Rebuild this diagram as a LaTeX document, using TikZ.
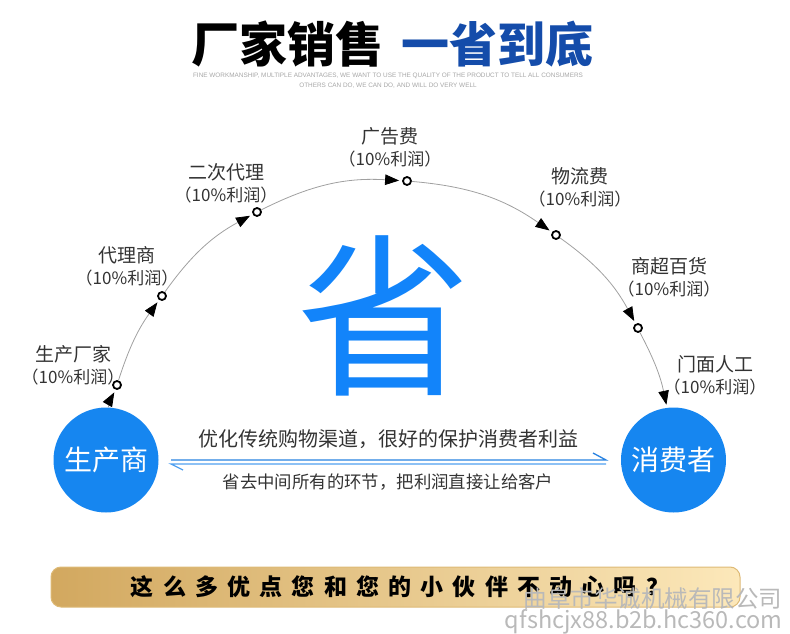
\documentclass[tikz,border=0pt]{standalone}
\usepackage{fontspec}
\setmainfont{Noto Sans CJK SC}
\newfontfamily\latinfont{Liberation Sans}
\usepackage{tikz}
\usetikzlibrary{arrows.meta,shapes}

\definecolor{hubblue}{RGB}{22,134,240}
\definecolor{bigblue}{RGB}{18,132,250}
\definecolor{titleblue}{RGB}{20,76,170}
\definecolor{txtgray}{RGB}{51,51,51}
\definecolor{linegray}{RGB}{160,160,160}
\definecolor{lineblue}{RGB}{40,130,225}
\definecolor{lineblue2}{RGB}{80,160,240}
\definecolor{goldA}{RGB}{210,168,95}
\definecolor{goldB}{RGB}{246,222,172}
\definecolor{goldC}{RGB}{252,232,186}
\definecolor{goldrim}{RGB}{222,186,118}

\newcommand{\profit}{{\fontsize{17}{20}\selectfont （10\%利润）}}

\begin{document}
\begin{tikzpicture}[x=1pt,y=1pt,
  flow/.style={-{Triangle[length=14pt,width=10.5pt,color=black]},draw=linegray,line width=0.8pt,shorten >=3pt},
  hub/.style={circle,fill=hubblue,text=white,minimum size=105pt,inner sep=0pt,font=\fontsize{28}{30}\selectfont}]
\tikzstyle{stop}=[circle,draw=black,line width=1.8pt,fill=white,inner sep=0pt,minimum size=8pt]
\tikzstyle{cost}=[align=center,text=txtgray,font=\fontsize{19}{22}\selectfont]
\tikzstyle{sub}=[text=gray!70,font=\latinfont\fontsize{6.4}{7}\selectfont]
\tikzstyle{wmark}=[anchor=east,text=gray!55,font=\fontsize{23.5}{26}\selectfont]
\useasboundingbox (0,0) rectangle (790,633);

% title
\node (title) at (392,589) {\fontsize{48}{50}\selectfont\bfseries 厂家销售\hspace{18pt}\textcolor{titleblue}{一省到底}};
\node[sub] (sub1) at (388,557) {FINE WORKMANSHIP, MULTIPLE ADVANTAGES, WE WANT TO USE THE QUALITY OF THE PRODUCT TO TELL ALL CONSUMERS};
\node[sub] (sub2) at (388,547) {OTHERS CAN DO, WE CAN DO, AND WILL DO VERY WELL};

\node[text=bigblue,font=\fontsize{175}{175}\selectfont] (sheng) at (384,317) {省};

% the two ends
\node[hub] (prod) at (106,173) {生产商};
\node[hub] (cons) at (673.5,173) {消费者};

% stops on the way
\node[stop] (d1) at (117,248) {};
\node[stop] (d2) at (162,337) {};
\node[stop] (d3) at (257,421) {};
\node[stop] (d4) at (407,452) {};
\node[stop] (d5) at (556,398) {};
\node[stop] (d6) at (638,305) {};

\node[cost] (c1) at (73,268) {生产厂家\\\profit};
\node[cost] (c2) at (127,367) {代理商\\\profit};
\node[cost] (c3) at (226,450) {二次代理\\\profit};
\node[cost] (c4) at (390,486) {广告费\\\profit};
\node[cost] (c5) at (580,446) {物流费\\\profit};
\node[cost] (c6) at (669,356) {商超百货\\\profit};
\node[cost] (c7) at (715,258) {门面人工\\\profit};

\path (prod) edge[flow,bend left=6] (d1)
      (d1) edge[flow,bend left=9] (d2)
      (d2) edge[flow,bend left=13] (d3)
      (d3) edge[flow,bend left=15] (d4)
      (d4) edge[flow,bend left=15] (d5)
      (d5) edge[flow,bend left=13] (d6)
      (d6) edge[flow,bend left=8] (cons);

% middle texts and the two lines
\node[text=txtgray,font=\fontsize{20}{24}\selectfont] (slogan) at (388,194) {优化传统购物渠道，很好的保护消费者利益};
\node[text=txtgray,font=\fontsize{17.4}{20}\selectfont] (note) at (388,151) {省去中间所有的环节，把利润直接让给客户};
\coordinate (ua) at (171,173);
\coordinate (ub) at (606,173);
\coordinate (ut) at (593,180);
\coordinate (la) at (606,169);
\coordinate (lb) at (171,169);
\coordinate (lt) at (183,163);
\draw[lineblue,line width=1.3pt] (ua) -- (ub) -- (ut);
\draw[lineblue2,line width=1.3pt] (la) -- (lb) -- (lt);

% banner
\node[draw=goldrim,line width=1pt,rounded corners=10pt,minimum width=689pt,minimum height=40pt,
      left color=goldA,middle color=goldB,right color=goldC] (band) at (395.5,46) {};
\node[font=\fontsize{23}{25}\selectfont\bfseries] (ask) at (400,46) {\addfontfeature{LetterSpace=40}这么多优点您和您的小伙伴不动心吗？};

\node[wmark] (wm1) at (786,34) {曲阜市华诚机械有限公司};
\node[wmark] (wm2) at (786,11) {qfshcjx88.b2b.hc360.com};
\end{tikzpicture}
\end{document}
